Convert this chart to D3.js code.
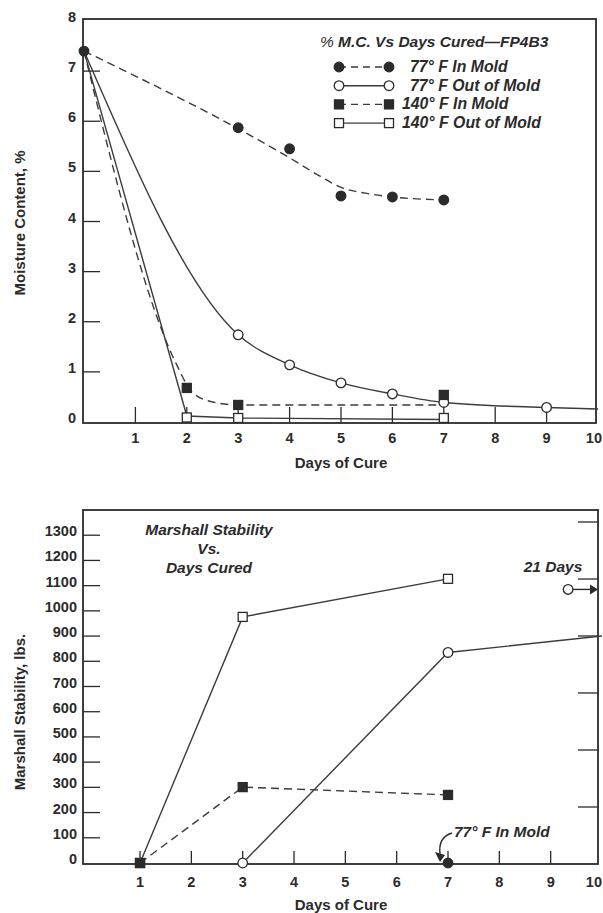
<!DOCTYPE html>
<html>
<head>
<meta charset="utf-8">
<script src="https://cdn.jsdelivr.net/npm/d3@7"></script>
<style>
  body { margin: 0; background: #fff; }
  svg { display: block; font-family: "Liberation Sans", Arial, sans-serif; font-weight: bold; }
</style>
</head>
<body>
<div id="chart"></div>
<script>
// ---- data ----
const cureDayTicks = [1, 2, 3, 4, 5, 6, 7, 8, 9, 10];
const moistureTicks = [0, 1, 2, 3, 4, 5, 6, 7, 8];
const stabilityTicks = [0, 100, 200, 300, 400, 500, 600, 700, 800, 900, 1000, 1100, 1200, 1300];
const rightScaleTicks = [1, 2, 3, 4, 5, 6];

// % moisture content, measured points
const mcStart = { day: 0, value: 7.4 };
const mcIn77 = [[3, 5.87], [4, 5.45], [5, 4.51], [6, 4.49], [7, 4.43]];
const mcOut77 = [[3, 1.74], [4, 1.14], [5, 0.78], [6, 0.56], [7, 0.39], [9, 0.29]];
const mcIn140 = [[2, 0.68], [3, 0.34], [7, 0.54]];
const mcOut140 = [[2, 0.09], [3, 0.08], [7, 0.08]];

// drawn (faired) curves
const mcIn77Curve = [[0, 7.4], [4, 5.27], [4.6, 4.9], [5, 4.68], [5.5, 4.56], [6, 4.49], [7, 4.43]];
const mcOut77Curve = [[0, 7.4], [3, 1.74], [4, 1.14], [5, 0.78], [6, 0.56], [7, 0.39], [9, 0.29], [10, 0.26]];
const mcIn140Curve = [[0, 7.4], [1.8, 1.15], [2.1, 0.6], [2.5, 0.4], [3, 0.34], [7, 0.34]];
const mcOut140Curve = [[0, 7.4], [2, 0.12], [3, 0.08], [7, 0.05]];

// Marshall stability, lbs
const msOut140 = [[1, 0], [3, 976], [7, 1127]];
const msOut77 = [[3, 0], [7, 835]];
const msOut77Line = [[3, 0], [7, 835], [10, 900]];
const msIn140 = [[1, 0], [3, 301], [7, 270]];
const msIn77 = [[7, 0]];
const ms21Days = { day: 9.34, value: 1085, label: "21 Days" };

const legendItems = [
  { label: "77° F In Mold", marker: "circle", filled: true, dashed: true },
  { label: "77° F Out of Mold", marker: "circle", filled: false, dashed: false },
  { label: "140° F In Mold", marker: "square", filled: true, dashed: true },
  { label: "140° F Out of Mold", marker: "square", filled: false, dashed: false },
];

// ---- drawing ----
const W = 603, H = 913;
const ink = "#2b2b2b";
const lineInk = "#3c3c3c";
const dash = "8,5";

const svg = d3.select("#chart").append("svg").attr("width", W).attr("height", H);

function marker(g, shape, filled, cx, cy) {
  if (shape === "circle") {
    g.append("circle").attr("cx", cx).attr("cy", cy).attr("r", 4.8)
      .attr("fill", filled ? ink : "#fff").attr("stroke", ink).attr("stroke-width", 1.3);
  } else {
    g.append("rect").attr("x", cx - 4.5).attr("y", cy - 4.5).attr("width", 9).attr("height", 9)
      .attr("fill", filled ? ink : "#fff").attr("stroke", ink).attr("stroke-width", 1.3);
  }
}

function curve(g, x, y, pts, dashed, curveType) {
  g.append("path")
    .attr("d", d3.line().x((d) => x(d[0])).y((d) => y(d[1])).curve(curveType || d3.curveLinear)(pts))
    .attr("fill", "none").attr("stroke", lineInk).attr("stroke-width", 1.4)
    .attr("stroke-dasharray", dashed ? dash : null);
}

function frame(g, box, x, y, yTicks, yLabelX, xLabelY, yTickLen, xTickLen) {
  g.append("rect").attr("x", box.left).attr("y", box.top)
    .attr("width", box.right - box.left).attr("height", box.bottom - box.top)
    .attr("fill", "none").attr("stroke", ink).attr("stroke-width", 1.8);

  g.append("g").selectAll("line").data(yTicks.filter((v) => y(v) > box.top + 2 && y(v) < box.bottom - 2)).join("line")
    .attr("x1", box.left).attr("x2", box.left + yTickLen)
    .attr("y1", (v) => y(v)).attr("y2", (v) => y(v))
    .attr("stroke", ink).attr("stroke-width", 1.3);

  g.append("g").selectAll("text").data(yTicks).join("text")
    .attr("x", yLabelX).attr("y", (v) => y(v) + 1)
    .attr("text-anchor", "end").attr("font-size", 14.5).attr("fill", ink)
    .text((v) => v);

  g.append("g").selectAll("line").data(cureDayTicks.filter((d) => x(d) < box.right - 2)).join("line")
    .attr("x1", (d) => x(d)).attr("x2", (d) => x(d))
    .attr("y1", box.bottom).attr("y2", box.bottom - xTickLen)
    .attr("stroke", ink).attr("stroke-width", 1.3);

  // the last label sits at the page edge; keep it inside
  g.append("g").selectAll("text").data(cureDayTicks).join("text")
    .attr("x", (d) => (x(d) + 8 > W ? W - 1 : x(d)))
    .attr("text-anchor", (d) => (x(d) + 8 > W ? "end" : "middle"))
    .attr("y", xLabelY).attr("font-size", 14.5).attr("fill", ink)
    .text((d) => d);
}

// ---------- top: moisture content ----------
{
  const box = { left: 83, right: 596, top: 19, bottom: 423 };
  const x = d3.scaleLinear().domain([0, 10]).range([84, 598]);
  const y = d3.scaleLinear().domain([0, 8]).range([422, 21]);
  const g = svg.append("g");

  frame(g, box, x, y, moistureTicks, 76, 443, 17, 16);

  g.append("text").attr("x", 341).attr("y", 468).attr("text-anchor", "middle")
    .attr("font-size", 15).attr("fill", ink).text("Days of Cure");
  g.append("text").attr("transform", "translate(25,223) rotate(-90)").attr("text-anchor", "middle")
    .attr("font-size", 15).attr("fill", ink).text("Moisture Content, %");

  curve(g, x, y, mcIn77Curve, true, d3.curveMonotoneX);
  curve(g, x, y, mcOut77Curve, false, d3.curveMonotoneX);
  curve(g, x, y, mcIn140Curve, true, d3.curveMonotoneX);
  curve(g, x, y, mcOut140Curve, false, d3.curveLinear);

  mcIn77.forEach((d) => marker(g, "circle", true, x(d[0]), y(d[1])));
  mcOut77.forEach((d) => marker(g, "circle", false, x(d[0]), y(d[1])));
  mcIn140.forEach((d) => marker(g, "square", true, x(d[0]), y(d[1])));
  mcOut140.forEach((d) => marker(g, "square", false, x(d[0]), y(d[1])));
  marker(g, "circle", true, x(mcStart.day), y(mcStart.value));

  // legend
  const title = g.append("text").attr("x", 320).attr("y", 47)
    .attr("font-size", 15.5).attr("font-style", "italic").attr("fill", ink);
  title.append("tspan").attr("font-weight", "normal").text("% ");
  title.append("tspan").text("M.C. Vs Days Cured—FP4B3");

  legendItems.forEach((item, i) => {
    const cy = 67 + i * 18.7;
    g.append("line").attr("x1", 339).attr("x2", 389).attr("y1", cy).attr("y2", cy)
      .attr("stroke", lineInk).attr("stroke-width", 1.4)
      .attr("stroke-dasharray", item.dashed ? "7,5" : null);
    marker(g, item.marker, item.filled, 339, cy);
    marker(g, item.marker, item.filled, 389, cy);
    g.append("text").attr("x", item.label.startsWith("140") ? 402 : 410).attr("y", cy + 5)
      .attr("font-size", 15.8).attr("font-style", "italic").attr("fill", ink).text(item.label);
  });
}

// ---------- bottom: Marshall stability ----------
{
  const box = { left: 83, right: 598, top: 510, bottom: 864 };
  const x = d3.scaleLinear().domain([0, 10]).range([88.7, 602]);
  const y = d3.scaleLinear().domain([0, 1400]).range([863, 510]);
  const yRight = d3.scaleLinear().domain([0, 6]).range([864, 522]);
  const g = svg.append("g");

  frame(g, box, x, y, stabilityTicks, 77, 887, 17, 13);

  g.append("g").selectAll("line").data(rightScaleTicks).join("line")
    .attr("x1", box.right).attr("x2", box.right - 20)
    .attr("y1", (v) => yRight(v)).attr("y2", (v) => yRight(v))
    .attr("stroke", ink).attr("stroke-width", 1.3);

  g.append("text").attr("x", 341).attr("y", 910).attr("text-anchor", "middle")
    .attr("font-size", 15).attr("fill", ink).text("Days of Cure");
  g.append("text").attr("transform", "translate(25,712) rotate(-90)").attr("text-anchor", "middle")
    .attr("font-size", 15).attr("fill", ink).text("Marshall Stability, lbs.");

  ["Marshall Stability", "Vs.", "Days Cured"].forEach((t, i) => {
    g.append("text").attr("x", 209).attr("y", 535 + i * 19).attr("text-anchor", "middle")
      .attr("font-size", 15.5).attr("font-style", "italic").attr("fill", ink).text(t);
  });

  curve(g, x, y, msOut140, false);
  curve(g, x, y, msOut77Line, false);
  curve(g, x, y, msIn140, true);

  msOut140.forEach((d) => marker(g, "square", false, x(d[0]), y(d[1])));
  msOut77.forEach((d) => marker(g, "circle", false, x(d[0]), y(d[1])));
  msIn140.forEach((d) => marker(g, "square", true, x(d[0]), y(d[1])));
  msIn77.forEach((d) => marker(g, "circle", true, x(d[0]), y(d[1])));

  // 21-day result with arrow to the frame edge
  const px = x(ms21Days.day), py = y(ms21Days.value);
  g.append("line").attr("x1", px).attr("x2", box.right - 6).attr("y1", py).attr("y2", py)
    .attr("stroke", ink).attr("stroke-width", 1.4);
  g.append("path").attr("d", `M${box.right - 8},${py - 5}L${box.right},${py}L${box.right - 8},${py + 5}Z`)
    .attr("fill", ink);
  marker(g, "circle", false, px, py);
  g.append("text").attr("x", 553).attr("y", 572).attr("text-anchor", "middle")
    .attr("font-size", 15.5).attr("font-style", "italic").attr("fill", ink).text(ms21Days.label);

  // "77° F In Mold" callout at day 7
  const ax = x(msIn77[0][0]), ay = y(msIn77[0][1]);
  g.append("text").attr("x", ax + 6).attr("y", ay - 26)
    .attr("font-size", 15.5).attr("font-style", "italic").attr("fill", ink).text("77° F In Mold");
  g.append("path").attr("d", `M${ax + 4},${ay - 30} Q${ax - 10},${ay - 26} ${ax - 8},${ay - 9}`)
    .attr("fill", "none").attr("stroke", ink).attr("stroke-width", 1.4);
  g.append("path").attr("d", `M${ax - 13},${ay - 11} L${ax - 3},${ay - 8} L${ax - 8},${ay - 1} Z`)
    .attr("fill", ink);
}
</script>
</body>
</html>
